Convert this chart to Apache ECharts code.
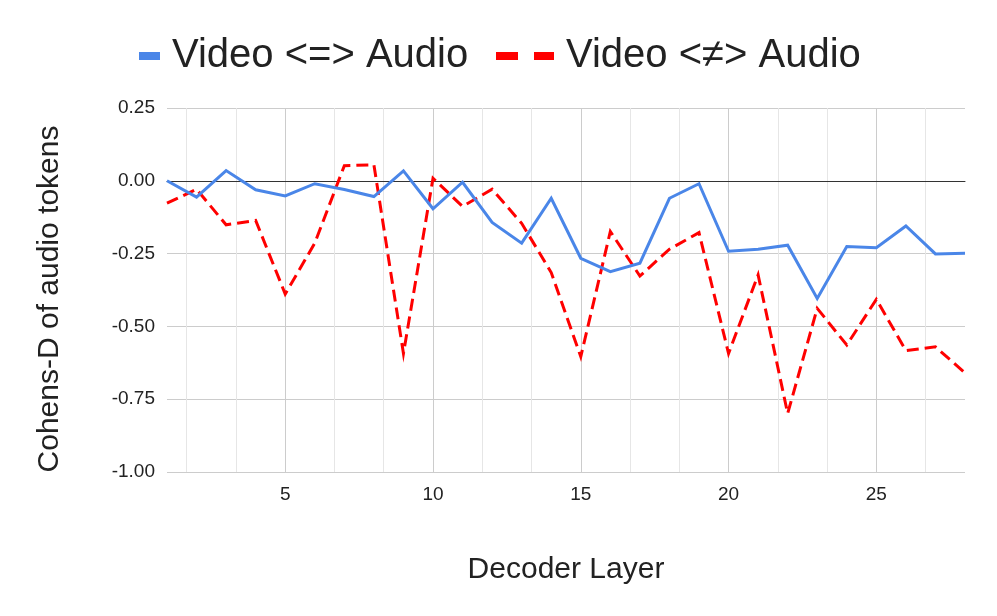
<!DOCTYPE html>
<html>
<head>
<meta charset="utf-8">
<script src="https://cdn.jsdelivr.net/npm/echarts@6/dist/echarts.min.js"></script>
<style>
  html, body { margin: 0; padding: 0; background: #fff; }
  #chart { width: 997px; height: 616px; }
</style>
</head>
<body>
<div id="chart"></div>
<script>
// decoder layers 1..28
const layers = Array.from({ length: 28 }, (_, i) => i + 1)
// Cohens-D, matched pairs
const matched = [0.00, -0.056, 0.035, -0.031, -0.052, -0.010, -0.030, -0.054, 0.034, -0.096,
  -0.005, -0.143, -0.214, -0.060, -0.266, -0.312, -0.283, -0.060, -0.010, -0.242,
  -0.235, -0.221, -0.404, -0.226, -0.230, -0.155, -0.251, -0.249]
// Cohens-D, mismatched pairs
const mismatched = [-0.077, -0.029, -0.151, -0.136, -0.389, -0.214, 0.052, 0.055, -0.593, 0.009,
  -0.088, -0.029, -0.146, -0.315, -0.604, -0.174, -0.327, -0.235, -0.178, -0.593,
  -0.323, -0.799, -0.438, -0.564, -0.407, -0.583, -0.570, -0.660]
const xMajorTicks = [5, 10, 15, 20, 25]
const xMinorTicks = [5 / 3, 10 / 3, 20 / 3, 25 / 3, 35 / 3, 40 / 3, 50 / 3, 55 / 3, 65 / 3, 70 / 3, 80 / 3]

const FONT = '"Liberation Sans", Arial, sans-serif'
const TEXT = '#222'

const chart = echarts.init(document.getElementById('chart'))
chart.setOption({
  animation: false,
  textStyle: { fontFamily: FONT },
  grid: { left: 167, right: 32, top: 108, bottom: 144 },
  legend: [{
    data: [{ name: 'Video <=> Audio', icon: 'rect' }],
    left: 139, top: 36, padding: 0,
    itemWidth: 21, itemHeight: 8,
    textStyle: { fontSize: 40, color: TEXT, fontFamily: FONT, padding: [0, 0, 0, 7] }
  }, {
    data: [{ name: 'Video <≠> Audio', icon: 'path://M0,0H22V8H0Z M38,0H58V8H38Z' }],
    left: 496, top: 36, padding: 0,
    itemWidth: 58, itemHeight: 8,
    textStyle: { fontSize: 40, color: TEXT, fontFamily: FONT, padding: [0, 0, 0, 7] }
  }],
  xAxis: [{
    type: 'value', min: 1, max: 28,
    name: 'Decoder Layer', nameLocation: 'middle', nameGap: 83,
    nameTextStyle: { fontSize: 30, color: TEXT },
    axisLine: { show: false },
    axisTick: { show: false, customValues: xMajorTicks },
    axisLabel: { customValues: xMajorTicks, fontSize: 19, color: TEXT, margin: 13 },
    splitLine: { show: true, lineStyle: { color: '#cccccc', width: 1 } }
  }, {
    type: 'value', min: 1, max: 28, position: 'bottom',
    axisLine: { show: true, onZero: true, onZeroAxisIndex: 0, lineStyle: { color: '#333', width: 1 } },
    axisTick: { show: false, customValues: xMinorTicks },
    axisLabel: { show: false },
    splitLine: { show: true, lineStyle: { color: '#e6e6e6', width: 1 } }
  }],
  yAxis: {
    type: 'value', min: -1, max: 0.25, interval: 0.25,
    name: 'Cohens-D of audio tokens', nameLocation: 'middle', nameGap: 102,
    nameTextStyle: { fontSize: 30, color: TEXT, padding: [0, 18, 0, 0] },
    axisLine: { show: false },
    axisTick: { show: false },
    axisLabel: { fontSize: 19, color: TEXT, margin: 12, formatter: v => v.toFixed(2) },
    splitLine: { lineStyle: { color: '#cccccc', width: 1 } }
  },
  series: [{
    name: 'Video <=> Audio',
    type: 'line',
    data: layers.map((x, i) => [x, matched[i]]),
    showSymbol: false,
    itemStyle: { color: '#4a86e8' },
    lineStyle: { color: '#4a86e8', width: 3, join: 'miter' },
    z: 3
  }, {
    name: 'Video <≠> Audio',
    type: 'line',
    data: layers.map((x, i) => [x, mismatched[i]]),
    showSymbol: false,
    itemStyle: { color: '#ff0000' },
    lineStyle: { color: '#ff0000', width: 3, type: [12, 6], join: 'miter' },
    z: 2
  }]
})
</script>
</body>
</html>
